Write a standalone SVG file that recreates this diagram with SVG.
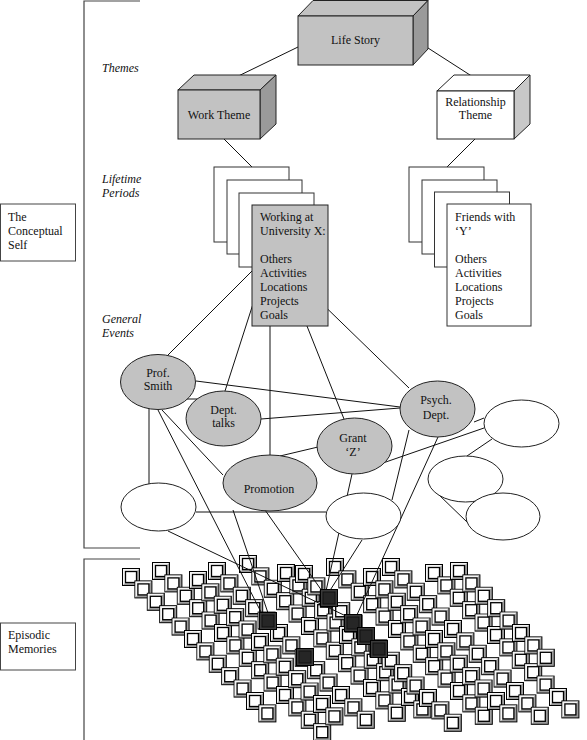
<svg xmlns="http://www.w3.org/2000/svg" width="587" height="740" viewBox="0 0 587 740">
<defs>
<style>
text{font-family:"Liberation Serif","Times New Roman",serif;font-size:12px;fill:#111}
.it{font-style:italic}
.c{text-anchor:middle}
.ln{stroke:#111;stroke-width:1;fill:none}
.br{stroke:#444;stroke-width:1.2;fill:none}
.g{fill:#c2c2c2;stroke:#222;stroke-width:1}
.w{fill:#fff;stroke:#222;stroke-width:1}
.sd{fill:#9a9a9a;stroke:#222;stroke-width:1}
.sl{fill:#c8c8c8;stroke:#222;stroke-width:1}
.pg{fill:#fff;stroke:#333;stroke-width:1}
.lb{fill:#fff;stroke:#444;stroke-width:1}
</style>
<g id="sq">
<rect x="0.5" y="0.5" width="17" height="17" fill="#9c9c9c" stroke="#000" stroke-width="1"/>
<polygon points="1,1 17,1 14,4 4,4 4,14 1,17" fill="#f4f4f4"/>
<rect x="3.5" y="3.5" width="11" height="11" fill="#fff" stroke="#000" stroke-width="1.3"/>
</g>
<g id="dq">
<rect x="0.5" y="0.5" width="17" height="17" fill="#3a3a3a" stroke="#000"/>
<rect x="3" y="3" width="12" height="12" fill="#262626" stroke="#111"/>
</g>
<g id="r8">
<use href="#sq"/>
<use href="#sq" x="12.4" y="12.4"/>
<use href="#sq" x="24.8" y="24.8"/>
<use href="#sq" x="37.2" y="37.2"/>
<use href="#sq" x="49.6" y="49.6"/>
<use href="#sq" x="62" y="62"/>
<use href="#sq" x="74.4" y="74.4"/>
<use href="#sq" x="86.8" y="86.8"/>
</g>
<g id="r12">
<use href="#r8"/>
<use href="#sq" x="99.2" y="99.2"/>
<use href="#sq" x="111.6" y="111.6"/>
<use href="#sq" x="124" y="124"/>
<use href="#sq" x="136.4" y="136.4"/>
</g>
<g id="r13">
<use href="#r12"/>
<use href="#sq" x="148.8" y="148.8"/>
</g>
<g id="r14">
<use href="#r13"/>
<use href="#sq" x="161.2" y="161.2"/>
</g>
</defs>

<g id="bracket">
<path class="br" d="M140,1 H84 V548 H140"/>
<path class="br" d="M140,559 H84 V740"/>
</g>

<g id="conceptual-self">
<rect class="lb" x="0.5" y="204" width="75" height="57"/>
<text x="8" y="221">The</text>
<text x="8" y="235">Conceptual</text>
<text x="8" y="249">Self</text>
</g>
<g id="episodic-label">
<rect class="lb" x="0.5" y="623" width="75" height="47"/>
<text x="8" y="639">Episodic</text>
<text x="8" y="653">Memories</text>
</g>

<g id="level-labels">
<text class="it" x="102" y="72">Themes</text>
<text class="it" x="102" y="183">Lifetime</text>
<text class="it" x="102" y="197">Periods</text>
<text class="it" x="102" y="323">General</text>
<text class="it" x="102" y="337">Events</text>
</g>

<g id="episodic-memories">
<use href="#r12" x="122" y="568"/>
<use href="#r14" x="152" y="562"/>
<use href="#r12" x="189" y="571"/>
<use href="#r13" x="208" y="562"/>
<use href="#r13" x="239" y="555"/>
<use href="#r12" x="277" y="564"/>
<use href="#r13" x="295" y="565"/>
<use href="#r13" x="326" y="558"/>
<use href="#r12" x="363" y="568"/>
<use href="#r13" x="382" y="558"/>
<use href="#r12" x="425" y="564"/>
<use href="#r8" x="450" y="562"/>
</g>

<g id="connectors">
<line class="ln" x1="298" y1="47" x2="224" y2="83"/>
<line class="ln" x1="428" y1="48" x2="484" y2="84"/>
<line class="ln" x1="224" y1="139" x2="252" y2="167"/>
<line class="ln" x1="475" y1="139" x2="447" y2="167"/>
<line class="ln" x1="260" y1="263" x2="168" y2="355"/>
<line class="ln" x1="262" y1="276" x2="225" y2="391"/>
<line class="ln" x1="270" y1="317" x2="270" y2="455"/>
<line class="ln" x1="299" y1="306" x2="344" y2="419"/>
<line class="ln" x1="308" y1="290" x2="409" y2="388"/>
<line class="ln" x1="196" y1="381" x2="400" y2="407"/>
<line class="ln" x1="261" y1="419" x2="400" y2="408"/>
<line class="ln" x1="185" y1="399" x2="197" y2="399"/>
<line class="ln" x1="280" y1="456" x2="318" y2="447"/>
<line class="ln" x1="380" y1="464" x2="484" y2="428"/>
<line class="ln" x1="474" y1="422" x2="484" y2="418"/>
<line class="ln" x1="492" y1="439" x2="467" y2="456"/>
<line class="ln" x1="437" y1="493" x2="467" y2="522"/>
<line class="ln" x1="149" y1="409" x2="149" y2="484"/>
<line class="ln" x1="196" y1="512" x2="326" y2="512"/>
<line class="ln" x1="409" y1="430" x2="392" y2="500"/>
<line class="ln" x1="162" y1="410" x2="223" y2="475"/>
<line class="ln" x1="158" y1="410" x2="262" y2="614"/>
<line class="ln" x1="233" y1="510" x2="268" y2="613"/>
<line class="ln" x1="265" y1="510" x2="322" y2="591"/>
<line class="ln" x1="168" y1="531" x2="348" y2="617"/>
<line class="ln" x1="352" y1="474" x2="326" y2="591"/>
<line class="ln" x1="362" y1="540" x2="329" y2="592"/>
<line class="ln" x1="438" y1="437" x2="356" y2="617"/>
</g>

<g id="activated-memories">
<use href="#dq" x="259" y="612"/>
<use href="#dq" x="320" y="589"/>
<use href="#dq" x="344" y="614"/>
<use href="#dq" x="357" y="627"/>
<use href="#dq" x="370" y="640"/>
<use href="#dq" x="296" y="648"/>
</g>

<g id="life-story">
<polygon class="g" points="298,16 313,0.5 428,0.5 413,16"/>
<polygon class="sd" points="413,16 428,0.5 428,49 413,65"/>
<rect class="g" x="298" y="16" width="115" height="49"/>
<text class="c" x="355.5" y="44">Life Story</text>
</g>

<g id="work-theme">
<polygon class="g" points="178,90 194,75 276,75 260,90"/>
<polygon class="sd" points="260,90 276,75 276,124 260,139"/>
<rect class="g" x="178" y="90" width="82" height="49"/>
<text class="c" x="219" y="119">Work Theme</text>
</g>

<g id="relationship-theme">
<polygon class="w" points="437,91 454,75 530,75 514,91"/>
<polygon class="sl" points="514,91 530,75 530,124 514,139"/>
<rect class="w" x="437" y="91" width="77" height="48"/>
<text class="c" x="475.5" y="106">Relationship</text>
<text class="c" x="475.5" y="119">Theme</text>
</g>

<g id="working-university">
<rect class="pg" x="214" y="167" width="75" height="75"/>
<rect class="pg" x="227" y="180" width="75" height="74"/>
<rect class="pg" x="239" y="193" width="75" height="74"/>
<rect class="g" x="252" y="205" width="76" height="121"/>
<text x="260" y="221">Working at</text>
<text x="260" y="235">University X:</text>
<text x="260" y="263">Others</text>
<text x="260" y="277">Activities</text>
<text x="260" y="291">Locations</text>
<text x="260" y="305">Projects</text>
<text x="260" y="319">Goals</text>
</g>

<g id="friends-y">
<rect class="pg" x="409" y="167" width="75" height="75"/>
<rect class="pg" x="422" y="180" width="75" height="74"/>
<rect class="pg" x="434.5" y="192" width="75" height="75"/>
<rect class="pg" x="447" y="204" width="84" height="122"/>
<text x="455" y="221">Friends with</text>
<text x="455" y="235">‘Y’</text>
<text x="455" y="263">Others</text>
<text x="455" y="277">Activities</text>
<text x="455" y="291">Locations</text>
<text x="455" y="305">Projects</text>
<text x="455" y="319">Goals</text>
</g>

<g id="prof-smith">
<ellipse class="g" cx="158" cy="382" rx="37.5" ry="27.5"/>
<text class="c" x="158" y="377">Prof.</text>
<text class="c" x="158" y="390">Smith</text>
</g>
<g id="dept-talks">
<ellipse class="g" cx="223.5" cy="418.5" rx="37.5" ry="27.5"/>
<text class="c" x="223.5" y="414">Dept.</text>
<text class="c" x="223.5" y="427">talks</text>
</g>
<g id="promotion">
<ellipse class="g" cx="270" cy="483" rx="47" ry="28"/>
<text class="c" x="269" y="493">Promotion</text>
</g>
<g id="grant-z">
<ellipse class="g" cx="354.5" cy="446" rx="37.5" ry="28"/>
<text class="c" x="353" y="442">Grant</text>
<text class="c" x="353" y="456">‘Z’</text>
</g>
<g id="psych-dept">
<ellipse class="g" cx="437.5" cy="409" rx="37.5" ry="28"/>
<text class="c" x="436" y="404">Psych.</text>
<text class="c" x="436" y="419">Dept.</text>
</g>
<g id="event-e1"><ellipse class="w" cx="521.5" cy="423.5" rx="37.5" ry="23.5"/></g>
<g id="event-e2"><ellipse class="w" cx="465.5" cy="479" rx="37.5" ry="23"/></g>
<g id="event-e3"><ellipse class="w" cx="503" cy="516.5" rx="37" ry="23.5"/></g>
<g id="event-e4"><ellipse class="w" cx="363.5" cy="516" rx="37.5" ry="23"/></g>
<g id="event-e5"><ellipse class="w" cx="158.5" cy="507" rx="37.5" ry="24"/></g>
</svg>
